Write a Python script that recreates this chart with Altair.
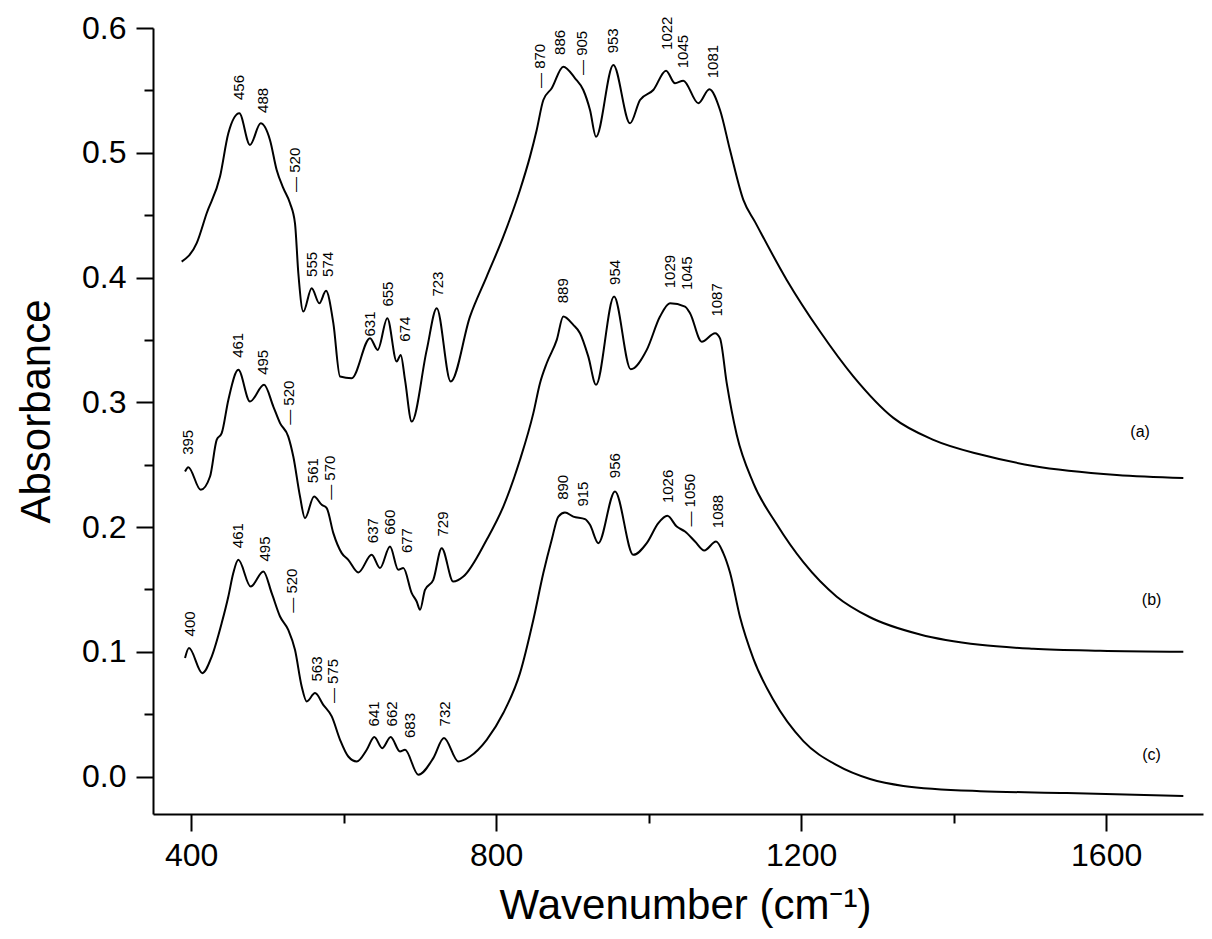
import altair as alt
import pandas as pd

# ---- spectrum (a) ----
a_wn = [387.6, 407.3, 420.4, 437.9, 448.8, 463.2, 477.2, 491.2, 503.4, 512.2, 520.9, 529.7, 536.2, 540.6,
        547.1, 558.1, 568.1, 576.9, 586.5, 595.3, 610.6, 634.6, 644.7, 657.3, 669.6, 674.9, 680.5, 689.3,
        709.0, 722.1, 740.4, 765.7, 787.6, 809.4, 831.3, 844.4, 853.2, 861.9, 872.9, 888.1, 903.5, 914.3,
        923.1, 931.0, 953.7, 975.6, 988.7, 1006.1, 1022.8, 1034.6, 1045.5, 1065.2, 1079.6, 1093.6, 1106.7,
        1124.2, 1139.5, 1181.1, 1224.8, 1268.4, 1320.9, 1373.4, 1436.7, 1504.5, 1613.9, 1701.2]
a_abs = [0.4127, 0.4275, 0.4515, 0.4809, 0.5156, 0.5316, 0.5062, 0.5236, 0.5103, 0.4862, 0.4716, 0.4595,
         0.4435, 0.4034, 0.3727, 0.3914, 0.3794, 0.3893, 0.3634, 0.3206, 0.3193, 0.3514, 0.3420, 0.3674,
         0.3326, 0.3380, 0.3180, 0.2845, 0.3420, 0.3754, 0.3166, 0.3687, 0.4007, 0.4328, 0.4702, 0.4969,
         0.5183, 0.5423, 0.5517, 0.5690, 0.5597, 0.5503, 0.5343, 0.5129, 0.5704, 0.5236, 0.5423, 0.5503,
         0.5658, 0.5557, 0.5578, 0.5397, 0.5509, 0.5343, 0.5022, 0.4622, 0.4446, 0.3981, 0.3567, 0.3208,
         0.2875, 0.2699, 0.2579, 0.2490, 0.2418, 0.2394]

# ---- spectrum (b) ----
b_wn = [392.0, 396.3, 412.6, 424.8, 433.5, 440.1, 448.8, 461.9, 477.2, 495.6, 507.8, 516.6, 527.4, 534.0,
        542.8, 549.3, 561.2, 571.3, 577.8, 586.5, 597.5, 606.1, 619.3, 636.8, 647.7, 660.8, 671.7, 678.3,
        689.3, 695.8, 700.2, 706.7, 717.6, 728.6, 743.8, 757.0, 787.6, 809.4, 831.3, 848.8, 857.5, 866.3,
        879.5, 888.1, 901.2, 910.0, 920.9, 931.0, 954.6, 976.5, 997.5, 1014.9, 1028.0, 1047.7, 1054.3,
        1069.6, 1087.1, 1093.6, 1102.4, 1115.5, 1137.3, 1168.0, 1202.9, 1246.7, 1290.3, 1355.9, 1434.6,
        1504.5, 1592.0, 1701.2]
b_abs = [0.2445, 0.2480, 0.2298, 0.2405, 0.2699, 0.2752, 0.3019, 0.3260, 0.3006, 0.3140, 0.2966, 0.2833,
         0.2725, 0.2565, 0.2245, 0.2071, 0.2245, 0.2178, 0.2152, 0.1951, 0.1791, 0.1737, 0.1636, 0.1777,
         0.1671, 0.1844, 0.1657, 0.1671, 0.1470, 0.1403, 0.1337, 0.1497, 0.1577, 0.1831, 0.1563, 0.1603,
         0.1898, 0.2164, 0.2539, 0.2913, 0.3153, 0.3313, 0.3500, 0.3687, 0.3620, 0.3554, 0.3366, 0.3140,
         0.3847, 0.3265, 0.3420, 0.3687, 0.3794, 0.3767, 0.3714, 0.3486, 0.3554, 0.3512, 0.3153, 0.2739,
         0.2353, 0.2022, 0.1718, 0.1442, 0.1277, 0.1139, 0.1056, 0.1024, 0.1008, 0.1000]

# ---- spectrum (c) ----
c_wn = [392.0, 397.2, 414.7, 427.0, 440.1, 448.8, 455.3, 461.9, 478.1, 494.7, 505.7, 516.6, 527.4, 536.2,
        545.0, 551.6, 562.5, 573.3, 584.4, 595.3, 606.1, 617.2, 630.3, 640.2, 650.7, 661.7, 673.9, 680.5,
        697.9, 717.6, 731.6, 750.4, 765.7, 787.6, 809.4, 831.3, 848.8, 861.9, 872.9, 881.6, 890.3, 901.2,
        916.6, 923.1, 934.0, 955.9, 979.9, 997.5, 1012.7, 1024.5, 1036.8, 1047.7, 1060.8, 1073.0, 1088.4,
        1097.9, 1106.7, 1119.9, 1137.3, 1163.5, 1202.9, 1246.7, 1290.3, 1334.0, 1434.6, 1548.3, 1701.2]
c_abs = [0.0950, 0.1030, 0.0829, 0.0962, 0.1230, 0.1443, 0.1631, 0.1737, 0.1523, 0.1644, 0.1470, 0.1283,
         0.1176, 0.1016, 0.0722, 0.0602, 0.0669, 0.0575, 0.0482, 0.0295, 0.0161, 0.0121, 0.0215, 0.0317,
         0.0228, 0.0317, 0.0201, 0.0215, 0.0015, 0.0148, 0.0309, 0.0121, 0.0161, 0.0295, 0.0509, 0.0829,
         0.1257, 0.1631, 0.1898, 0.2084, 0.2116, 0.2084, 0.2063, 0.2018, 0.1871, 0.2285, 0.1777, 0.1871,
         0.2031, 0.2090, 0.2004, 0.1964, 0.1884, 0.1812, 0.1884, 0.1791, 0.1636, 0.1277, 0.0946, 0.0615,
         0.0284, 0.0091, -0.0020, -0.0075, -0.0117, -0.0131, -0.0156]

# ---- peak annotations (text, anchor wavenumber, anchor absorbance = bottom of the text) ----
peak_text = ["456", "488", "\u2014 520", "555", "574", "631", "655", "674", "723",
             "\u2014 870", "886", "\u2014 905", "953", "1022", "1045", "1081",
             "395", "461", "495", "\u2014 520", "561", "\u2014 570", "637", "660", "677", "729",
             "889", "954", "1029", "1045", "1087",
             "400", "461", "495", "\u2014 520", "563", "\u2014 575", "641", "662", "683", "732",
             "890", "915", "956", "1026", "\u2014 1050", "1088"]
peak_wn = [463.2, 494.7, 536.2, 558.1, 579.9, 634.6, 658.6, 680.5, 724.2,
           857.5, 883.8, 912.2, 953.7, 1023.7, 1045.5, 1084.8,
           396.3, 461.9, 494.7, 528.8, 560.2, 582.1, 638.9, 660.8, 682.7, 730.7,
           888.1, 955.9, 1028.0, 1050.0, 1089.3,
           398.5, 461.9, 496.9, 531.9, 564.7, 586.5, 639.8, 663.1, 687.1, 733.0,
           888.1, 914.3, 955.9, 1025.8, 1054.3, 1091.4]
peak_abs = [0.5423, 0.5319, 0.4686, 0.4005, 0.4005, 0.3527, 0.3767, 0.3486, 0.3847,
            0.5519, 0.5784, 0.5623, 0.5797, 0.5824, 0.5677, 0.5597,
            0.2579, 0.3356, 0.3220, 0.2819, 0.2352, 0.2218, 0.1871, 0.1938, 0.1791, 0.1924,
            0.3794, 0.3941, 0.3914, 0.3901, 0.3687,
            0.1123, 0.1831, 0.1724, 0.1313, 0.0762, 0.0589, 0.0402, 0.0402, 0.0309, 0.0402,
            0.2218, 0.2164, 0.2392, 0.2192, 0.2004, 0.1991]

# ---- series labels ----
series_text = ["(a)", "(b)", "(c)"]
series_wn = [1644.5, 1659.6, 1659.6]
series_abs = [0.2765, 0.1417, 0.0175]

x_ticks = [400, 600, 800, 1000, 1200, 1400, 1600]
y_ticks = [0.0, 0.05, 0.1, 0.15, 0.2, 0.25, 0.3, 0.35, 0.4, 0.45, 0.5, 0.55, 0.6]

assert len(a_wn) == len(a_abs) and len(b_wn) == len(b_abs) and len(c_wn) == len(c_abs)
assert len(peak_text) == len(peak_wn) == len(peak_abs)

rows = []
for name, xs, ys in (("a", a_wn, a_abs), ("b", b_wn, b_abs), ("c", c_wn, c_abs)):
    for xv, yv in zip(xs, ys):
        rows.append({"series": name, "wn": xv, "absb": yv})
spec_df = pd.DataFrame(rows)
peak_df = pd.DataFrame({"label": peak_text, "wn": peak_wn, "absb": peak_abs})
ser_df = pd.DataFrame({"label": series_text, "wn": series_wn, "absb": series_abs})

FONT = "Liberation Sans"
xscale = alt.Scale(domain=[350, 1727], nice=False, zero=False)
yscale = alt.Scale(domain=[-0.03, 0.6], nice=False, zero=False)

major_x = "datum.value % 400 === 0"
major_y = "abs(datum.value * 10 - round(datum.value * 10)) < 0.001"

x_axis = alt.Axis(
    values=x_ticks, format="d",
    labelExpr=f"{major_x} ? datum.label : ''",
    tickSize=alt.condition(major_x, alt.value(17), alt.value(9)),
    tickWidth=2, tickColor="black", domainColor="black", domainWidth=2,
    labelFont=FONT, labelFontSize=32, labelColor="black", labelPadding=9,
    grid=False, title="Wavenumber (cm\u207b\u00b9)", titleFont=FONT, titleFontSize=42,
    titleFontWeight="normal", titleColor="black", titleX=532, titleY=104,
    titleBaseline="alphabetic", titleAlign="center",
)
y_axis = alt.Axis(
    values=y_ticks,
    labelExpr=f"{major_y} ? format(datum.value, '.1f') : ''",
    tickSize=alt.condition(major_y, alt.value(17), alt.value(9)),
    tickWidth=2, tickColor="black", domainColor="black", domainWidth=2,
    labelFont=FONT, labelFontSize=32, labelColor="black", labelPadding=10,
    grid=False, title="Absorbance", titleFont=FONT, titleFontSize=42,
    titleFontWeight="normal", titleColor="black", titleAngle=270,
    titleX=-104, titleY=383, titleBaseline="alphabetic", titleAlign="center",
)

lines = alt.Chart(spec_df).mark_line(
    interpolate="monotone", color="black", strokeWidth=2
).encode(
    x=alt.X("wn:Q", scale=xscale, axis=x_axis),
    y=alt.Y("absb:Q", scale=yscale, axis=y_axis),
    detail="series:N",
)

peaks = alt.Chart(peak_df).mark_text(
    angle=270, align="left", baseline="middle", font=FONT, fontSize=15, color="black"
).encode(x=alt.X("wn:Q", scale=xscale), y=alt.Y("absb:Q", scale=yscale), text="label:N")

series_lbl = alt.Chart(ser_df).mark_text(
    align="center", baseline="middle", font=FONT, fontSize=16, color="black"
).encode(x=alt.X("wn:Q", scale=xscale), y=alt.Y("absb:Q", scale=yscale), text="label:N")

chart = alt.layer(lines, peaks, series_lbl).properties(
    width=1050, height=786,
    autosize=alt.AutoSizeParams(type="none"),
    padding={"left": 145, "top": 20, "right": 1, "bottom": 117},
    background="white",
).configure_view(stroke=None)

chart.save("out.html", embed_options={"renderer": "svg", "actions": False})
